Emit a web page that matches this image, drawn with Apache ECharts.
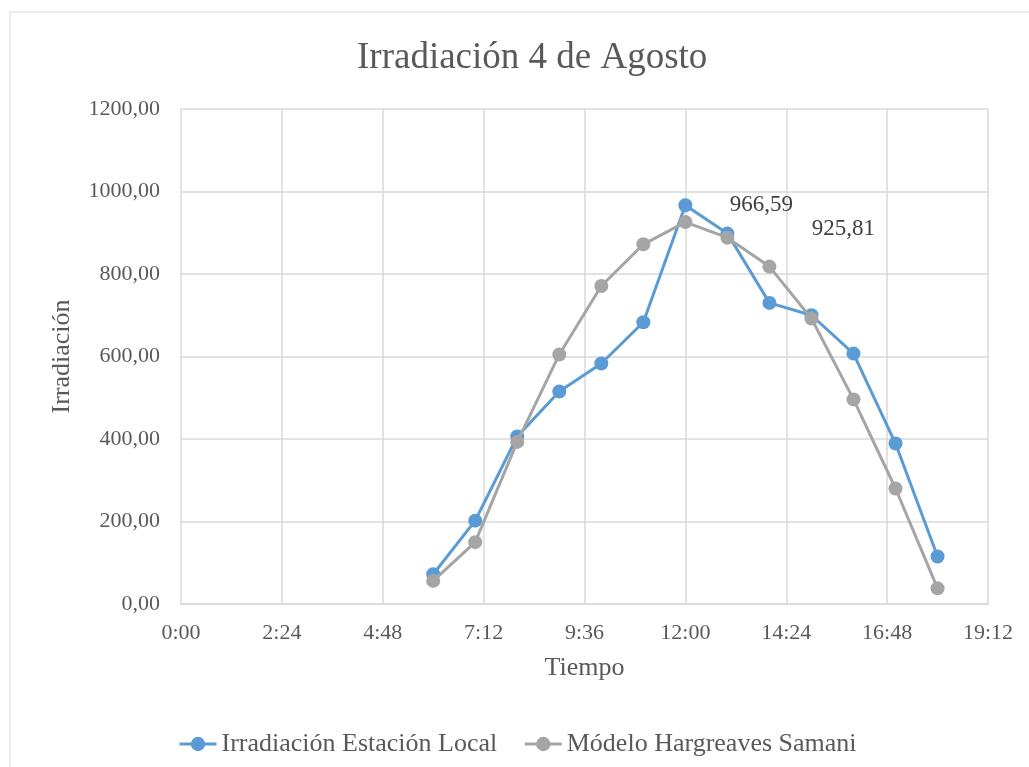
<!DOCTYPE html>
<html>
<head>
<meta charset="utf-8">
<style>
  html, body { margin: 0; padding: 0; background: #ffffff; }
  #chart { width: 1029px; height: 767px; }
</style>
<script src="https://cdn.jsdelivr.net/npm/echarts@6/dist/echarts.min.js"></script>
</head>
<body>
<div id="chart"></div>
<script>
// Hourly readings, time in minutes after midnight
const hours = [360, 420, 480, 540, 600, 660, 720, 780, 840, 900, 960, 1020, 1080];
const estacionLocal = [72, 202, 406, 515, 583, 683, 966.59, 898, 730, 700, 607, 389, 115];
const hargreavesSamani = [56, 150, 393, 605, 771, 872, 925.81, 888, 818, 692, 496, 280, 38];
const seriesNames = ['Irradiación Estación Local', 'Módelo Hargreaves Samani'];
const peakIndex = 6;

const serif = 'Liberation Serif, Times New Roman, serif';
const grey = '#595959';

function fmtTime(v) {
  const h = Math.floor(v / 60);
  const m = Math.round(v % 60);
  return h + ':' + (m < 10 ? '0' + m : m);
}
function fmtNum(v) {
  return v.toFixed(2).replace('.', ',');
}

function buildData(values, labelOffset) {
  return values.map(function (v, i) {
    const item = { value: [hours[i], v] };
    if (i === peakIndex) {
      item.label = {
        show: true,
        position: 'inside',
        offset: labelOffset,
        formatter: fmtNum(v),
        fontFamily: serif,
        fontSize: 23,
        color: '#404040'
      };
    }
    return item;
  });
}

const chart = echarts.init(document.getElementById('chart'), null, { renderer: 'canvas' });
chart.setOption({
  animation: false,
  backgroundColor: '#ffffff',
  graphic: [{
    type: 'rect',
    shape: { x: 10, y: 12, width: 1060, height: 800 },
    style: { fill: 'none', stroke: '#d9d9d9', lineWidth: 1 },
    silent: true,
    z: -1
  }],
  title: {
    text: 'Irradiación 4 de Agosto',
    left: 352,
    top: 35,
    textStyle: { fontFamily: serif, fontSize: 37, fontWeight: 'normal', color: grey }
  },
  legend: {
    data: seriesNames,
    left: 173,
    top: 726,
    itemWidth: 37,
    itemHeight: 18,
    itemGap: 26,
    lineStyle: { width: 3 },
    textStyle: { fontFamily: serif, fontSize: 26, color: grey }
  },
  grid: { left: 181, top: 109, width: 807, height: 495, containLabel: false },
  xAxis: {
    type: 'value',
    min: 0,
    max: 1152,
    interval: 144,
    name: 'Tiempo',
    nameLocation: 'middle',
    nameGap: 51,
    nameTextStyle: { fontFamily: serif, fontSize: 26, color: grey },
    axisLine: { show: true, lineStyle: { color: '#d9d9d9', width: 1.5 } },
    axisTick: { show: false },
    splitLine: { show: true, lineStyle: { color: '#d9d9d9', width: 1.5 } },
    axisLabel: {
      formatter: fmtTime,
      margin: 18,
      fontFamily: serif,
      fontSize: 22,
      color: grey
    }
  },
  yAxis: {
    type: 'value',
    min: 0,
    max: 1200,
    interval: 200,
    name: 'Irradiación',
    nameLocation: 'middle',
    nameRotate: 90,
    nameGap: 106,
    nameTextStyle: { fontFamily: serif, fontSize: 26, color: grey },
    axisLine: { show: false },
    axisTick: { show: false },
    splitLine: { show: true, lineStyle: { color: '#d9d9d9', width: 1.5 } },
    axisLabel: {
      formatter: fmtNum,
      margin: 21,
      fontFamily: serif,
      fontSize: 22,
      color: grey
    }
  },
  series: [
    {
      name: seriesNames[0],
      type: 'line',
      data: buildData(estacionLocal, [76, 0]),
      symbol: 'circle',
      symbolSize: 14,
      lineStyle: { color: '#5b9bd5', width: 3 },
      itemStyle: { color: '#5b9bd5' },
      z: 3
    },
    {
      name: seriesNames[1],
      type: 'line',
      data: buildData(hargreavesSamani, [158, 7]),
      symbol: 'circle',
      symbolSize: 14,
      lineStyle: { color: '#a5a5a5', width: 3 },
      itemStyle: { color: '#a5a5a5' },
      z: 4
    }
  ]
});
</script>
</body>
</html>
